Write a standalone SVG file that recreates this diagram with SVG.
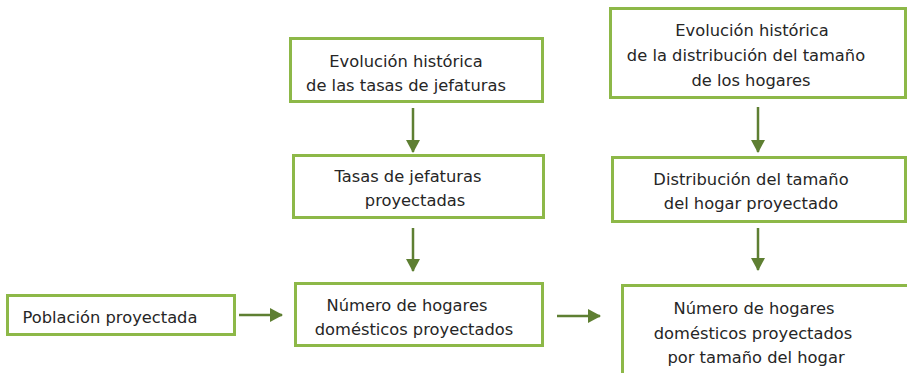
<svg xmlns="http://www.w3.org/2000/svg" width="907" height="373" viewBox="0 0 907 373">
<style>
.box{fill:#fff;stroke:#8db848;stroke-width:3}
.t{font-family:"DejaVu Sans",sans-serif;font-size:16.3px;fill:#262626;text-anchor:middle}
.c{stroke:#5e7f32;stroke-width:2.5;fill:none;marker-end:url(#ah)}
</style>
<defs>
<marker id="ah" markerUnits="userSpaceOnUse" markerWidth="14" markerHeight="14" refX="12" refY="7" orient="auto">
<path d="M0,0 L13,7 L0,14 Z" fill="#5e7f32"/>
</marker>
</defs>
<rect width="907" height="373" fill="#fff"/>
<g id="n-evol-jef">
<rect class="box" x="290.5" y="38.5" width="252" height="63"/>
<text class="t" x="406" y="67">Evolución histórica</text>
<text class="t" x="406" y="91">de las tasas de jefaturas</text>
</g>
<g id="n-tasas-proy">
<rect class="box" x="293.5" y="155.5" width="250" height="62"/>
<text class="t" x="408" y="182">Tasas de jefaturas</text>
<text class="t" x="415" y="206">proyectadas</text>
</g>
<g id="n-evol-dist">
<rect class="box" x="610.5" y="8.5" width="295" height="89"/>
<text class="t" x="752" y="36">Evolución histórica</text>
<text class="t" x="746" y="61">de la distribución del tamaño</text>
<text class="t" x="751" y="86">de los hogares</text>
</g>
<g id="n-dist-proy">
<rect class="box" x="612.5" y="157.5" width="293" height="64"/>
<text class="t" x="751" y="185">Distribución del tamaño</text>
<text class="t" x="751" y="209">del hogar proyectado</text>
</g>
<g id="n-pob">
<rect class="box" x="7.5" y="295.5" width="227" height="39"/>
<text class="t" x="110" y="323">Población proyectada</text>
</g>
<g id="n-num">
<rect class="box" x="295.5" y="283.5" width="247" height="62"/>
<text class="t" x="407" y="311">Número de hogares</text>
<text class="t" x="414" y="335">domésticos proyectados</text>
</g>
<g id="n-num-tam">
<rect class="box" x="622.5" y="285.5" width="290" height="100"/>
<text class="t" x="754" y="314">Número de hogares</text>
<text class="t" x="753" y="339">domésticos proyectados</text>
<text class="t" x="756" y="363">por tamaño del hogar</text>
</g>
<g id="connectors">
<line class="c" x1="413" y1="108" x2="413" y2="152"/>
<line class="c" x1="413" y1="228" x2="413" y2="271"/>
<line class="c" x1="758" y1="107" x2="758" y2="152"/>
<line class="c" x1="758" y1="228" x2="758" y2="270"/>
<line class="c" x1="239" y1="315" x2="282" y2="315"/>
<line class="c" x1="557" y1="316" x2="600" y2="316"/>
</g>
</svg>
